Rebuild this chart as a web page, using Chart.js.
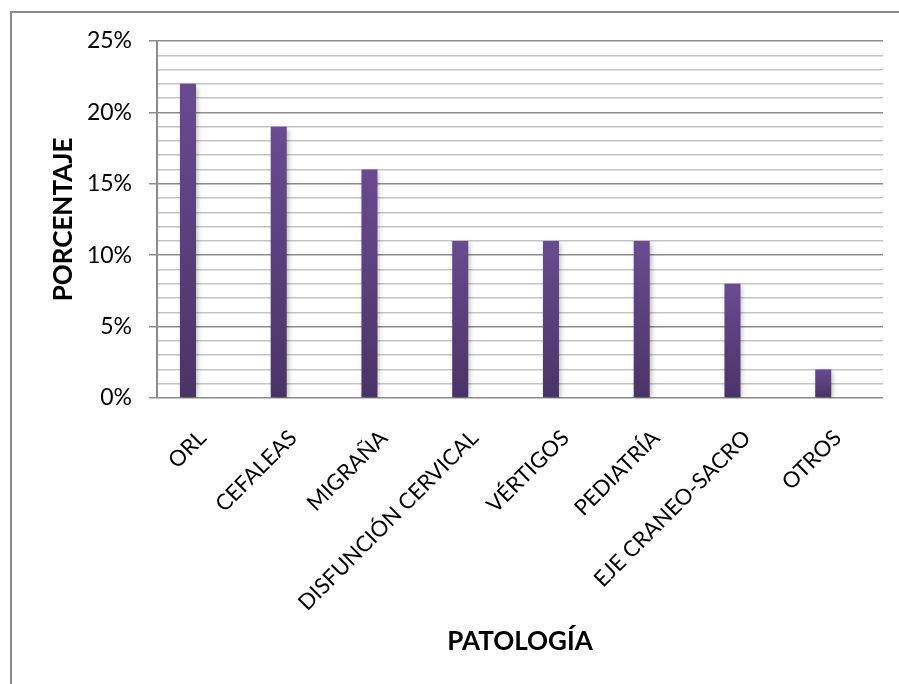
<!DOCTYPE html>
<html>
<head>
<meta charset="utf-8">
<script src="https://cdn.jsdelivr.net/npm/chart.js@4.4.1/dist/chart.umd.min.js"></script>
<style>
  html, body { margin: 0; padding: 0; background: #ffffff; }
  #wrap { position: relative; width: 899px; height: 684px; overflow: hidden; }
  #frame { position: absolute; left: 10px; top: 11px; width: 900px; height: 700px;
           border-top: 2px solid #8a8a8a; border-left: 2px solid #8a8a8a; pointer-events: none; }
  canvas { position: absolute; left: 0; top: 0; }
</style>
</head>
<body>
<div id="wrap">
  <canvas id="c" width="899" height="684"></canvas>
  <div id="frame"></div>
</div>
<script>
const categories = ['ORL', 'CEFALEAS', 'MIGRAÑA', 'DISFUNCIÓN CERVICAL', 'VÉRTIGOS', 'PEDIATRÍA', 'EJE CRANEO-SACRO', 'OTROS'];
const porcentajes = [22, 19, 16, 11, 11, 11, 8, 2];
const serieVacia = [];
const yTickLabels = ['0%', '5%', '10%', '15%', '20%', '25%'];
const yAxisTitle = 'PORCENTAJE';
const xAxisTitle = 'PATOLOGÍA';

const FONT = 'Lato, "Open Sans", sans-serif';

function barGradient(ctx) {
  const chart = ctx.chart;
  if (!chart.chartArea || ctx.raw === undefined) return '#5a3f7d';
  const y = chart.scales.y;
  const top = y.getPixelForValue(ctx.raw);
  const bottom = y.getPixelForValue(0);
  const g = chart.ctx.createLinearGradient(0, top, 0, bottom);
  g.addColorStop(0, '#684b90');
  g.addColorStop(1, '#4a3367');
  return g;
}

const shadowPlugin = {
  id: 'barShadow',
  beforeDatasetsDraw(chart) {
    const c = chart.ctx;
    c.save();
    c.shadowColor = 'rgba(0,0,0,0.28)';
    c.shadowBlur = 5;
    c.shadowOffsetX = 2;
    c.shadowOffsetY = 2;
  },
  afterDatasetsDraw(chart) {
    chart.ctx.restore();
  }
};

new Chart(document.getElementById('c'), {
  type: 'bar',
  data: {
    labels: categories,
    datasets: [
      { data: porcentajes, backgroundColor: barGradient, borderWidth: 0,
        categoryPercentage: 0.635, barPercentage: 0.556 },
      { data: serieVacia, backgroundColor: 'transparent', borderWidth: 0,
        categoryPercentage: 0.635, barPercentage: 0.556 }
    ]
  },
  plugins: [shadowPlugin],
  options: {
    responsive: false,
    animation: false,
    layout: { padding: { left: 12, right: 16, top: 41, bottom: 0 } },
    plugins: { legend: { display: false }, tooltip: { enabled: false } },
    scales: {
      x: {
        offset: true,
        grid: { display: false },
        border: { display: false },
        ticks: {
          color: '#000',
          font: { family: FONT, size: 22 },
          minRotation: 45, maxRotation: 45,
          autoSkip: false,
          padding: 19,
          labelOffset: 0
        },
        title: {
          display: true, text: xAxisTitle, color: '#000',
          font: { family: FONT, size: 26, weight: 'bold' },
          padding: { top: 0, bottom: 27 }
        },
        afterFit(scale) { scale.height = 684 - 398; }
      },
      y: {
        min: 0, max: 25,
        grid: {
          color: (ctx) => (ctx.tick && ctx.tick.value % 5 === 0) ? '#8c8c8c' : '#c4c4c4',
          tickColor: (ctx) => (ctx.tick && ctx.tick.value % 5 === 0) ? '#8c8c8c' : 'rgba(0,0,0,0)',
          lineWidth: 1.5,
          tickLength: 8
        },
        border: { display: true, color: '#8c8c8c', width: 2 },
        ticks: {
          stepSize: 1,
          autoSkip: false,
          color: '#000',
          font: { family: FONT, size: 23 },
          padding: 17,
          callback: (v) => (v % 5 === 0) ? yTickLabels[v / 5] : ''
        },
        title: {
          display: true, text: yAxisTitle, color: '#000',
          font: { family: FONT, size: 26, weight: 'bold' },
          padding: { top: 36, bottom: 0 }
        },
        afterFit(scale) { scale.width = 157 - 12; }
      }
    }
  }
});
</script>
</body>
</html>
